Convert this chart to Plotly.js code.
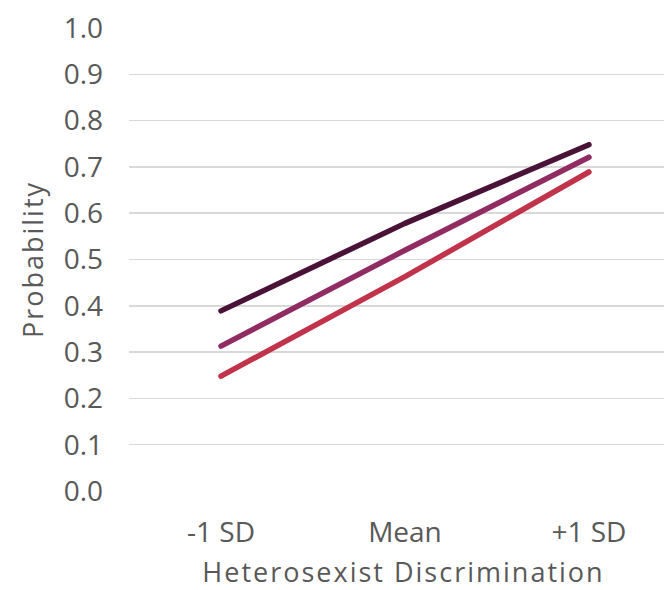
<!DOCTYPE html>
<html>
<head>
<meta charset="utf-8">
<script src="https://cdn.plot.ly/plotly-3.0.1.min.js"></script>
<style>
html,body{margin:0;padding:0;background:#fff;}
#chart{width:664px;height:590px;}
.js-line{stroke-linecap:round;stroke-linejoin:round;}
.xtitle,.ytitle{letter-spacing:2px;}
.xtitle{transform:translateX(7px);}
</style>
</head>
<body>
<div id="chart"></div>
<script>
var categories = ["-1 SD", "Mean", "+1 SD"];
var seriesHigh = [0.389, 0.578, 0.748];
var seriesMid = [0.313, 0.520, 0.721];
var seriesLow = [0.248, 0.463, 0.689];
var yTickVals = [0, 0.1, 0.2, 0.3, 0.4, 0.5, 0.6, 0.7, 0.8, 0.9, 1.0];
var yTickText = ["0.0", "0.1", "0.2", "0.3", "0.4", "0.5", "0.6", "0.7", "0.8", "0.9", "1.0"];

var fontFam = "'Open Sans', Lato, sans-serif";
function mk(y, color) {
  return {x: categories, y: y, type: "scatter", mode: "lines",
    line: {color: color, width: 5.5}, hoverinfo: "skip", showlegend: false};
}
var data = [
  mk(seriesLow, "#c0334b"),
  mk(seriesMid, "#912c63"),
  mk(seriesHigh, "#4b1238")
];
var layout = {
  width: 664, height: 590,
  margin: {l: 129, r: 0, t: 28, b: 99},
  paper_bgcolor: "#fff", plot_bgcolor: "#fff",
  font: {family: fontFam, color: "#595959", size: 26},
  xaxis: {
    type: "category", range: [-0.5, 2.408],
    showgrid: false, zeroline: false, showline: false,
    ticks: "", ticklabelstandoff: 22,
    tickfont: {size: 28, color: "#595959", family: fontFam},
    title: {text: "Heterosexist Discrimination", standoff: 16,
      font: {size: 27, color: "#595959", family: fontFam}}
  },
  yaxis: {
    range: [0, 1.0], tickvals: yTickVals, ticktext: yTickText,
    showgrid: true, gridcolor: "#d9d9d9", gridwidth: 1.5,
    zeroline: false, showline: false, ticks: "", ticklabelstandoff: 25,
    tickfont: {size: 28, color: "#595959", family: fontFam},
    title: {text: "Probability", standoff: 12,
      font: {size: 27, color: "#595959", family: fontFam}}
  }
};
Plotly.newPlot("chart", data, layout, {staticPlot: true, displayModeBar: false});
</script>
</body>
</html>
